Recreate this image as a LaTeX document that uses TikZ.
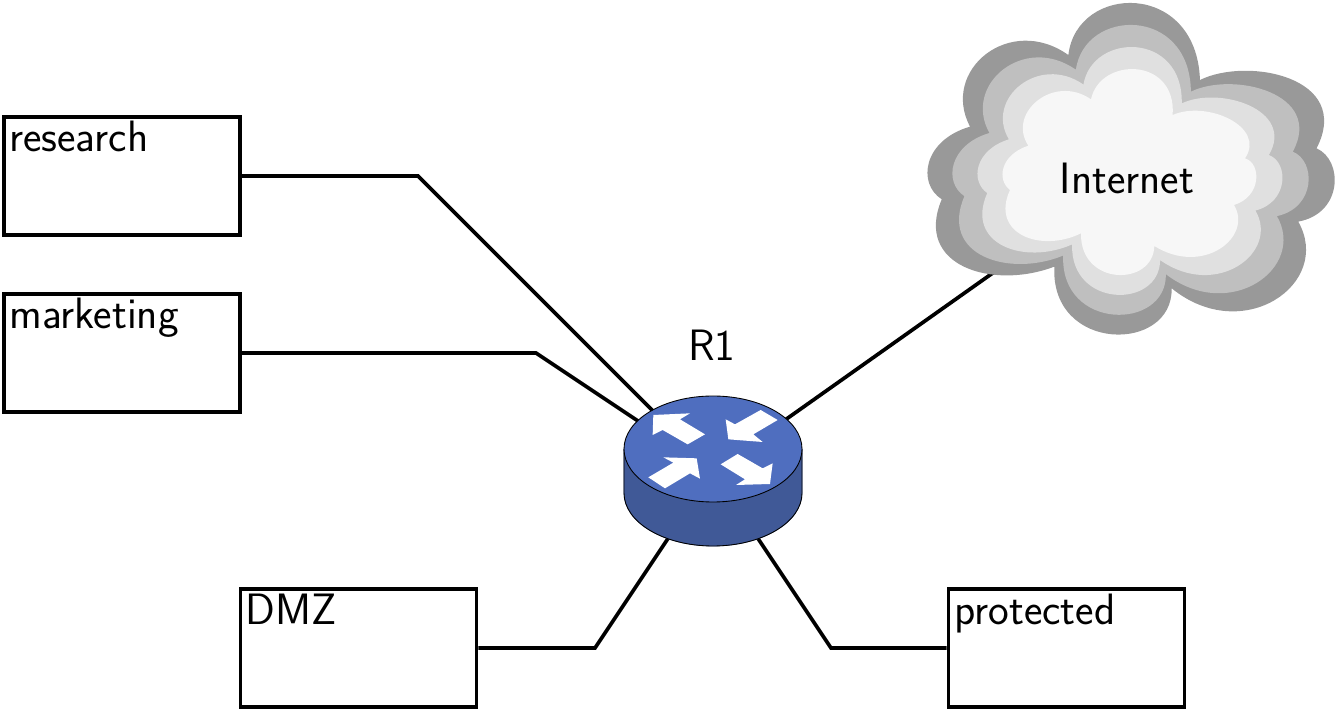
\documentclass[tikz,border=0pt]{standalone}
\usepackage{fontspec}
\usepackage{tikz}
\usetikzlibrary{calc}
\pgfdeclarelayer{bg}
\pgfsetlayers{bg,main}
\definecolor{cloudA}{HTML}{999999}
\definecolor{cloudB}{HTML}{BFBFBF}
\definecolor{cloudC}{HTML}{E0E0E0}
\definecolor{cloudD}{HTML}{F7F7F7}
\definecolor{routertop}{HTML}{4F6EBF}
\definecolor{routerside}{HTML}{405997}
\tikzset{
  netbox/.style={draw,line width=2.1pt,minimum width=4.72cm,minimum height=2.36cm,inner sep=0pt},
  netlabel/.style={anchor=base west,inner sep=0pt,font=\sffamily\fontsize{25}{30}\selectfont},
  link/.style={line width=2.1pt},
  bigtext/.style={font=\sffamily\fontsize{25}{30}\selectfont,inner sep=0pt}
}

\begin{document}
\begin{tikzpicture}[x=0.02cm,y=-0.02cm]
    \useasboundingbox (0,0) rectangle (1339,712);

    % subnets
    \node [netbox] (research) at (122,176) {};
    \node [netbox] (marketing) at (122,353) {};
    \node [netbox] (dmz) at (358.5,648) {};
    \node [netbox] (protected) at (1066.5,648) {};
    \node [netlabel] (researchlabel) at (9,152) {research};
    \node [netlabel] (marketinglabel) at (9,329) {marketing};
    \node [netlabel] (dmzlabel) at (245,624) {DMZ};
    \node [netlabel] (protectedlabel) at (954,624) {protected};

    % bends of the links
    \coordinate (researchbend) at (418,176);
    \coordinate (marketingbend) at (536,353);
    \coordinate (dmzbend) at (595,648);
    \coordinate (protectedbend) at (831,648);

    % cloud outline: outer layer / inner layer, in 3x units, y moved down by 100
    \begin{scope}[shift={(910,-33.33)},x=0.00667cm,y=-0.00667cm]
      \foreach \n/\ox/\oy/\ix/\iy in {0/180/480/355/537, 1/90/310/290/440, 2/300/140/430/320,
        3/475/265/543/398, 4/500/50/570/270, 5/860/40/800/270,
        6/870/340/788/445, 7/1010/270/890/400, 8/1330/330/1070/480,
        9/1220/545/1005/575, 10/1300/580/1055/590, 11/1300/740/1055/690,
        12/1165/765/972/715, 13/1270/950/1030/810, 14/1000/1140/880/930,
        15/785/965/733/838, 16/790/1160/730/960, 17/420/1160/510/960,
        18/433/900/513/800, 19/250/970/390/860, 20/10/900/240/800,
        21/95/698/300/670, 22/20/650/260/640, 23/40/520/270/565}
      {
        \coordinate (o\n) at (\ox,\oy);
        \coordinate (i\n) at (\ix,\iy);
      }
    \end{scope}
    \foreach \t/\c in {0.001/cloudA,0.333/cloudB,0.667/cloudC,1/cloudD}
      \fill [\c] ($(o0)!\t!(i0)$)
        \foreach \a/\b/\d in {1/2/3,4/5/6,7/8/9,10/11/12,13/14/15,16/17/18,19/20/21,22/23/0}
          { .. controls ($(o\a)!\t!(i\a)$) and ($(o\b)!\t!(i\b)$) .. ($(o\d)!\t!(i\d)$) } -- cycle;
    \node [bigtext] (internet) at (1127,178) {Internet};

    % router
    \node [minimum width=3.56cm,minimum height=3cm,inner sep=0pt] (r1) at (713,471) {};
    \node [bigtext] (r1label) at (712,345) {R1};
    \draw [routerside,fill=routerside] (624,449) -- (624,493)
      arc [start angle=180,end angle=360,x radius=89,y radius=-53] -- (802,449) -- cycle;
    \draw [line width=0.5pt] (624,449) -- (624,493)
      arc [start angle=180,end angle=360,x radius=89,y radius=-53] -- (802,449);
    \draw [line width=0.5pt,fill=routertop] (713,449) ellipse [x radius=89,y radius=53];
    \begin{scope}[shift={(600,380)},x=0.00667cm,y=-0.00667cm]
      \fill [white] (160,105) -- (270,100) -- (240,118) -- (315,163) -- (263,193) -- (188,150) -- (158,165) -- cycle;
      \fill [white] (385,178) -- (488,186) -- (460,163) -- (533,120) -- (482,90) -- (405,133) -- (377,118) -- cycle;
      \fill [white] (300,296) -- (290,235) -- (190,232) -- (220,248) -- (145,292) -- (195,325) -- (270,280) -- cycle;
      \fill [white] (510,312) -- (518,250) -- (488,265) -- (413,222) -- (362,253) -- (435,298) -- (408,315) -- cycle;
    \end{scope}

    \begin{pgfonlayer}{bg}    % links go behind router and cloud
        \draw [link] (research.east) -- (researchbend) -- (r1.center);
        \draw [link] (marketing.east) -- (marketingbend) -- (r1.center);
        \draw [link] (dmz.east) -- (dmzbend) -- (r1.center);
        \draw [link] (protected.west) -- (protectedbend) -- (r1.center);
        \draw [link] (internet.center) -- (r1.center);
    \end{pgfonlayer}
\end{tikzpicture}
\end{document}
